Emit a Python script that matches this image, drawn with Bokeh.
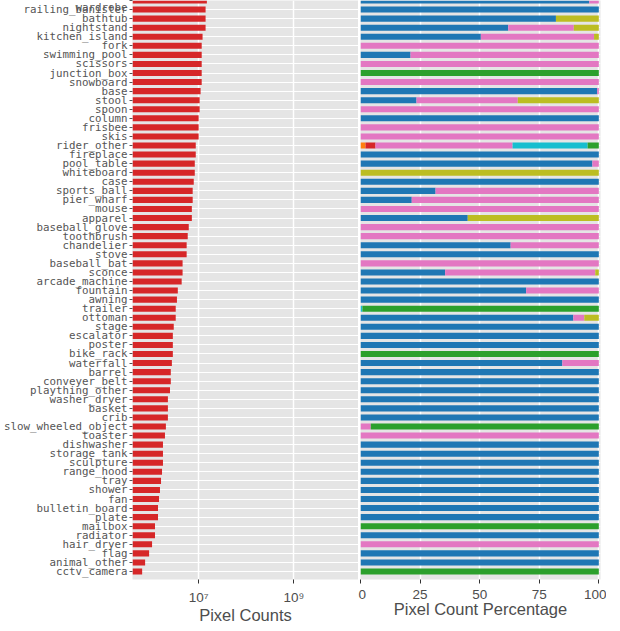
from bokeh.plotting import figure
from bokeh.layouts import row
from bokeh.models import ColumnDataSource, Range1d, FixedTicker, CustomJSTickFormatter
from bokeh.embed import file_html
from bokeh.resources import INLINE

# categories, top to bottom
cats = ["wardrobe", "railing_banister", "bathtub", "nightstand", "kitchen_island", "fork",
        "swimming_pool", "scissors", "junction_box", "snowboard", "base", "stool", "spoon",
        "column", "frisbee", "skis", "rider_other", "fireplace", "pool_table", "whiteboard",
        "case", "sports_ball", "pier_wharf", "mouse", "apparel", "baseball_glove", "toothbrush",
        "chandelier", "stove", "baseball_bat", "sconce", "arcade_machine", "fountain", "awning",
        "trailer", "ottoman", "stage", "escalator", "poster", "bike_rack", "waterfall", "barrel",
        "conveyer_belt", "plaything_other", "washer_dryer", "basket", "crib",
        "slow_wheeled_object", "toaster", "dishwasher", "storage_tank", "sculpture",
        "range_hood", "tray", "shower", "fan", "bulletin_board", "plate", "mailbox", "radiator",
        "hair_dryer", "flag", "animal_other", "cctv_camera"]

# pixel counts (log axis)
counts = [1.49e7, 1.40e7, 1.40e7, 1.40e7, 1.21e7, 1.16e7, 1.16e7, 1.16e7, 1.16e7, 1.16e7,
          1.10e7, 1.05e7, 1.05e7, 1.00e7, 1.00e7, 1.00e7, 8.7e6, 8.7e6, 8.3e6, 8.3e6,
          7.9e6, 7.5e6, 7.5e6, 7.2e6, 7.2e6, 6.2e6, 5.9e6, 5.6e6, 5.6e6, 4.6e6,
          4.6e6, 4.4e6, 3.65e6, 3.5e6, 3.3e6, 3.3e6, 3.0e6, 2.87e6, 2.87e6, 2.87e6,
          2.74e6, 2.6e6, 2.6e6, 2.5e6, 2.26e6, 2.26e6, 2.26e6, 2.05e6, 1.96e6, 1.78e6,
          1.78e6, 1.78e6, 1.7e6, 1.62e6, 1.54e6, 1.47e6, 1.4e6, 1.4e6, 1.21e6, 1.21e6,
          1.05e6, 9.1e5, 7.5e5, 6.5e5]

# percentage shares per colour group
orange = [0] * 16 + [2.1] + [0] * 47
red = [0] * 16 + [4.2] + [0] * 47
blue = [96, 100, 82, 62, 50.5, 0, 21, 0, 0, 0, 99.3, 23.5, 0, 100, 0, 0,
        0, 100, 97.3, 0, 100, 31.5, 21.5, 0, 45, 0, 0, 63, 100, 0, 35.5, 100,
        69.5, 100, 0, 89.3, 100, 100, 100, 0, 84.7, 100, 100, 100, 100, 100, 100, 0,
        0, 100, 100, 100, 100, 100, 100, 100, 100, 100, 0, 100, 0, 100, 100, 0]
pink = [4, 0, 0, 27.5, 47.5, 100, 79, 100, 0, 100, 0.7, 42.5, 100, 0, 100, 100,
        57.5, 0, 2.7, 0, 0, 68.5, 78.5, 100, 0, 100, 100, 37, 0, 100, 63, 0,
        30.5, 0, 0, 4.6, 0, 0, 0, 0, 15.3, 0, 0, 0, 0, 0, 0, 4.3,
        100, 0, 0, 0, 0, 0, 0, 0, 0, 0, 0, 0, 100, 0, 0, 0]
olive = [0, 0, 18, 10.5, 2, 0, 0, 0, 0, 0, 0, 34, 0, 0, 0, 0,
         0, 0, 0, 100, 0, 0, 0, 0, 55, 0, 0, 0, 0, 0, 1.5, 0,
         0, 0, 0, 6.1, 0, 0, 0, 0, 0, 0, 0, 0, 0, 0, 0, 0,
         0, 0, 0, 0, 0, 0, 0, 0, 0, 0, 0, 0, 0, 0, 0, 0]
cyan = [0] * 16 + [31.5] + [0] * 17 + [0.8] + [0] * 29
green = [0, 0, 0, 0, 0, 0, 0, 0, 100, 0, 0, 0, 0, 0, 0, 0,
         4.7, 0, 0, 0, 0, 0, 0, 0, 0, 0, 0, 0, 0, 0, 0, 0,
         0, 0, 99.2, 0, 0, 0, 0, 100, 0, 0, 0, 0, 0, 0, 0, 95.7,
         0, 0, 0, 0, 0, 0, 0, 0, 0, 0, 100, 0, 0, 0, 0, 100]

groups = ["orange", "red", "blue", "pink", "olive", "cyan", "green"]
colors = ["#ff7f0e", "#d62728", "#1f77b4", "#e377c2", "#bcbd22", "#17becf", "#2ca02c"]

n = len(cats)
pos = [n - 1 - i for i in range(n)]
source = ColumnDataSource(dict(cat=cats, pos=pos, count=counts, orange=orange, red=red,
                               blue=blue, pink=pink, olive=olive, cyan=cyan, green=green))

TXT = "#4d4d4d"
SANS = "Liberation Sans"
BG = "#e5e5e5"
y_range = Range1d(-0.88, n - 1)


def style_x(ax, label):
    ax.axis_label = label
    ax.axis_label_text_font = SANS
    ax.axis_label_text_font_size = "16.5px"
    ax.axis_label_text_font_style = "normal"
    ax.axis_label_text_color = TXT
    ax.axis_label_standoff = -2
    ax.major_label_text_font = SANS
    ax.major_label_text_font_size = "13.5px"
    ax.major_label_text_color = TXT
    ax.major_label_standoff = 6
    ax.axis_line_color = None
    ax.major_tick_in = 0
    ax.major_tick_out = 4
    ax.major_tick_line_color = "#333333"
    ax.minor_tick_line_color = None


# left: pixel counts
p1 = figure(width=358, height=631, x_axis_type="log", x_range=Range1d(10**5.61, 10**10.36),
            y_range=y_range, output_backend="svg", toolbar_location=None,
            min_border_left=130, min_border_right=0, min_border_top=0, min_border_bottom=52,
            background_fill_color=BG, outline_line_color=None)
p1.hbar(y="pos", left=1, right="count", height=0.67, fill_color="#d62728",
        line_color=None, source=source)

p1.xaxis.ticker = FixedTicker(ticks=[1e7, 1e9])
p1.xaxis.formatter = CustomJSTickFormatter(code="""
const sup = "⁰¹²³⁴⁵⁶⁷⁸⁹";
const e = String(Math.round(Math.log10(tick)));
return "10" + e.split("").map(d => sup[+d]).join("");
""")
style_x(p1.xaxis[0], "Pixel Counts")

p1.yaxis.ticker = FixedTicker(ticks=pos)
p1.yaxis.major_label_overrides = {p: c for p, c in zip(pos, cats)}
p1.yaxis.major_label_text_font = "DejaVu Sans Mono"
p1.yaxis.major_label_text_font_size = "10.8px"
p1.yaxis.major_label_text_color = "#555555"
p1.yaxis.major_label_standoff = 2
p1.yaxis.axis_line_color = None
p1.yaxis.major_tick_in = 0
p1.yaxis.major_tick_out = 3
p1.yaxis.major_tick_line_color = "#555555"
p1.yaxis.minor_tick_line_color = None

p1.xgrid.grid_line_color = "white"
p1.xgrid.grid_line_width = 1.5
p1.ygrid.grid_line_color = "white"
p1.ygrid.grid_line_width = 1

# right: percentage shares
p2 = figure(width=248, height=631, x_range=Range1d(0, 100.7), y_range=y_range,
            output_backend="svg", toolbar_location=None,
            min_border_left=2, min_border_right=6, min_border_top=0, min_border_bottom=52,
            background_fill_color=BG, outline_line_color=None)
p2.hbar_stack(groups, y="pos", height=0.67, fill_color=colors, line_color=None, source=source)

p2.xaxis.ticker = FixedTicker(ticks=[0, 25, 50, 75, 100])
style_x(p2.xaxis[0], "Pixel Count Percentage")
p2.yaxis.visible = False
p2.ygrid.ticker = FixedTicker(ticks=pos)
p2.xgrid.grid_line_color = "white"
p2.xgrid.grid_line_width = 1.5
p2.ygrid.grid_line_color = "white"
p2.ygrid.grid_line_width = 1

layout = row(p1, p2)
open("out.html", "w").write(file_html(layout, INLINE))
